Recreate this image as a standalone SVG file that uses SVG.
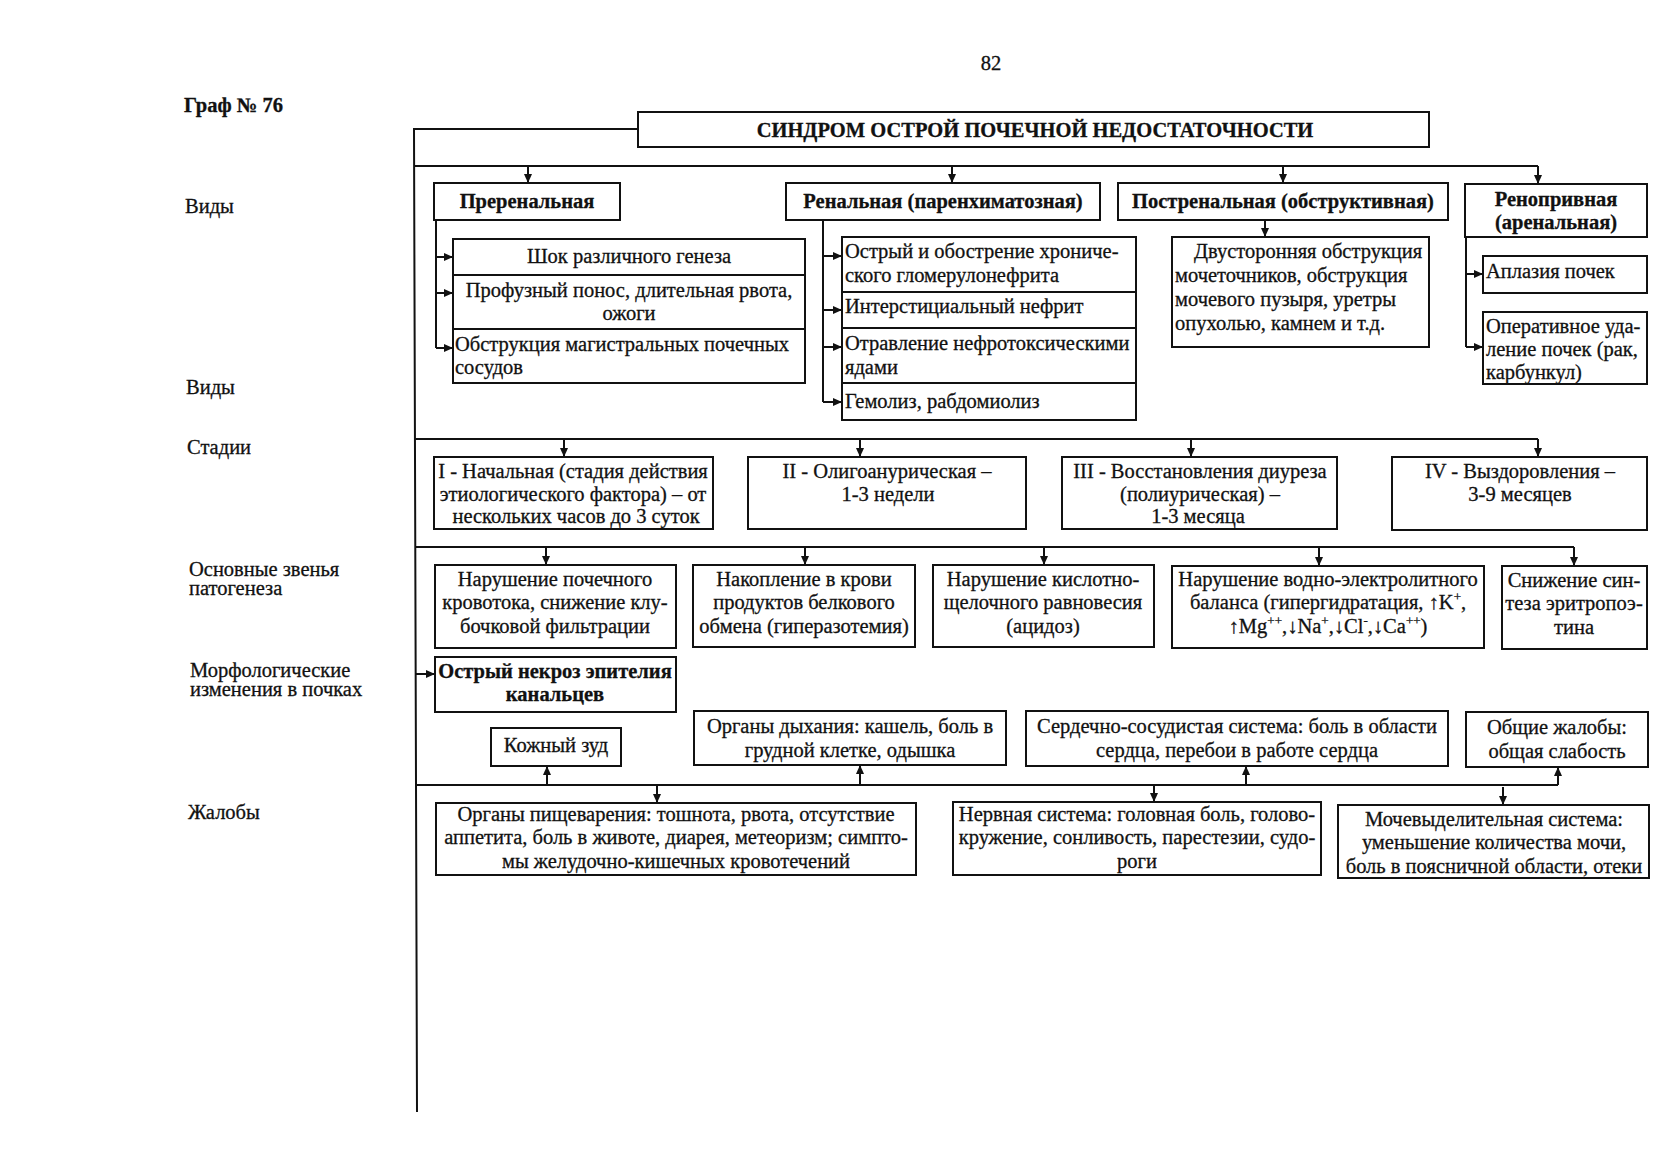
<svg xmlns="http://www.w3.org/2000/svg" width="1680" height="1164" viewBox="0 0 1680 1164">
<defs>
<marker id="ah" markerUnits="userSpaceOnUse" markerWidth="9" markerHeight="8" refX="9" refY="4" orient="auto">
<path d="M0,0 L9,4 L0,8 z" fill="#111"/>
</marker>
<style>
.box{fill:#fff;stroke:#111;stroke-width:2}
.ln{fill:none;stroke:#111;stroke-width:2}
.ar{fill:none;stroke:#111;stroke-width:2;marker-end:url(#ah)}
text{font-family:"Liberation Serif","Times New Roman",serif;font-size:20.5px;fill:#111;stroke:#111;stroke-width:0.3}
.b{font-weight:bold}
.c{text-anchor:middle}
.sup{font-size:13px}
</style>
</defs>
<rect width="1680" height="1164" fill="#fff"/>

<text x="991" y="70" class="c">82</text>
<text x="184" y="112" class="b">Граф № 76</text>

<g id="labels">
<text x="185" y="213">Виды</text>
<text x="186" y="394">Виды</text>
<text x="187" y="454">Стадии</text>
<text x="189" y="576">Основные звенья</text>
<text x="189" y="595">патогенеза</text>
<text x="190" y="677">Морфологические</text>
<text x="190" y="696">изменения в почках</text>
<text x="188" y="819">Жалобы</text>
</g>

<g id="connectors">
<polyline class="ln" points="638,129 414,129 417,1112"/>
<line class="ln" x1="414" y1="166" x2="1538" y2="166"/>
<line class="ar" x1="528" y1="166" x2="528" y2="183"/>
<line class="ar" x1="952" y1="166" x2="952" y2="183"/>
<line class="ar" x1="1283" y1="166" x2="1283" y2="183"/>
<line class="ar" x1="1538" y1="166" x2="1538" y2="184"/>
<polyline class="ln" points="436,220 436,348"/>
<line class="ar" x1="436" y1="257" x2="453" y2="257"/>
<line class="ar" x1="436" y1="293" x2="453" y2="293"/>
<line class="ar" x1="436" y1="348" x2="453" y2="348"/>
<polyline class="ln" points="823,220 823,402"/>
<line class="ar" x1="823" y1="256" x2="842" y2="256"/>
<line class="ar" x1="823" y1="310" x2="842" y2="310"/>
<line class="ar" x1="823" y1="347" x2="842" y2="347"/>
<line class="ar" x1="823" y1="402" x2="842" y2="402"/>
<line class="ar" x1="1265" y1="220" x2="1265" y2="237"/>
<polyline class="ln" points="1466,237 1466,347"/>
<line class="ar" x1="1466" y1="274" x2="1483" y2="274"/>
<line class="ar" x1="1466" y1="347" x2="1483" y2="347"/>

<line class="ln" x1="415" y1="439" x2="1538" y2="439"/>
<line class="ar" x1="564" y1="439" x2="564" y2="457"/>
<line class="ar" x1="860" y1="439" x2="860" y2="457"/>
<line class="ar" x1="1191" y1="439" x2="1191" y2="457"/>
<line class="ar" x1="1538" y1="439" x2="1538" y2="457"/>

<line class="ln" x1="415" y1="547" x2="1574" y2="547"/>
<line class="ar" x1="546" y1="547" x2="546" y2="565"/>
<line class="ar" x1="805" y1="547" x2="805" y2="565"/>
<line class="ar" x1="1044" y1="547" x2="1044" y2="565"/>
<line class="ar" x1="1319" y1="547" x2="1319" y2="566"/>
<line class="ar" x1="1574" y1="547" x2="1574" y2="566"/>

<line class="ar" x1="416" y1="674" x2="435" y2="674"/>

<line class="ln" x1="416" y1="785" x2="1558" y2="785"/>
<line class="ar" x1="547" y1="785" x2="547" y2="766"/>
<line class="ar" x1="860" y1="785" x2="860" y2="765"/>
<line class="ar" x1="1246" y1="785" x2="1246" y2="766"/>
<line class="ar" x1="1558" y1="785" x2="1558" y2="767"/>
<line class="ar" x1="657" y1="785" x2="657" y2="803"/>
<line class="ar" x1="1154" y1="785" x2="1154" y2="802"/>
<line class="ar" x1="1503" y1="787" x2="1503" y2="805"/>
</g>

<g id="title">
<rect class="box" x="638" y="112" width="791" height="35"/>
<text x="1035" y="137" class="c b">СИНДРОМ ОСТРОЙ ПОЧЕЧНОЙ НЕДОСТАТОЧНОСТИ</text>
</g>

<g id="prerenal">
<rect class="box" x="434" y="183" width="186" height="37"/>
<text x="527" y="208" class="c b">Преренальная</text>
</g>
<g id="prerenal-causes">
<rect class="box" x="453" y="239" width="352" height="36"/>
<rect class="box" x="453" y="275" width="352" height="54"/>
<rect class="box" x="453" y="329" width="352" height="54"/>
<text x="629" y="263" class="c">Шок различного генеза</text>
<text x="629" y="297" class="c">Профузный понос, длительная рвота,</text>
<text x="629" y="320" class="c">ожоги</text>
<text x="455" y="351">Обструкция магистральных почечных</text>
<text x="455" y="374">сосудов</text>
</g>

<g id="renal">
<rect class="box" x="786" y="183" width="314" height="37"/>
<text x="943" y="208" class="c b">Ренальная (паренхиматозная)</text>
</g>
<g id="renal-causes">
<rect class="box" x="842" y="237" width="294" height="55"/>
<rect class="box" x="842" y="292" width="294" height="36"/>
<rect class="box" x="842" y="328" width="294" height="55"/>
<rect class="box" x="842" y="383" width="294" height="37"/>
<text x="845" y="258">Острый и обострение хрониче-</text>
<text x="845" y="282">ского гломерулонефрита</text>
<text x="845" y="313">Интерстициальный нефрит</text>
<text x="845" y="350">Отравление нефротоксическими</text>
<text x="845" y="374">ядами</text>
<text x="845" y="408">Гемолиз, рабдомиолиз</text>
</g>

<g id="postrenal">
<rect class="box" x="1118" y="183" width="330" height="37"/>
<text x="1283" y="208" class="c b">Постренальная (обструктивная)</text>
</g>
<g id="postrenal-causes">
<rect class="box" x="1172" y="237" width="257" height="110"/>
<text x="1194" y="258">Двусторонняя обструкция</text>
<text x="1175" y="282">мочеточников, обструкция</text>
<text x="1175" y="306">мочевого пузыря, уретры</text>
<text x="1175" y="330">опухолью, камнем и т.д.</text>
</g>

<g id="reno">
<rect class="box" x="1465" y="184" width="182" height="53"/>
<text x="1556" y="206" class="c b">Ренопривная</text>
<text x="1556" y="229" class="c b">(аренальная)</text>
</g>
<g id="reno-aplasia">
<rect class="box" x="1483" y="256" width="164" height="37"/>
<text x="1486" y="278">Аплазия почек</text>
</g>
<g id="reno-surgery">
<rect class="box" x="1483" y="312" width="164" height="72"/>
<text x="1486" y="333">Оперативное уда-</text>
<text x="1486" y="356">ление почек (рак,</text>
<text x="1486" y="379">карбункул)</text>
</g>

<g id="stage1">
<rect class="box" x="434" y="457" width="279" height="72"/>
<text x="573" y="478" class="c">I - Начальная (стадия действия</text>
<text x="573" y="501" class="c">этиологического фактора) – от</text>
<text x="576" y="523" class="c">нескольких часов до 3 суток</text>
</g>
<g id="stage2">
<rect class="box" x="748" y="457" width="278" height="72"/>
<text x="887" y="478" class="c">II - Олигоанурическая –</text>
<text x="888" y="501" class="c">1-3 недели</text>
</g>
<g id="stage3">
<rect class="box" x="1062" y="457" width="275" height="72"/>
<text x="1200" y="478" class="c">III - Восстановления  диуреза</text>
<text x="1200" y="501" class="c">(полиурическая) –</text>
<text x="1198" y="523" class="c">1-3 месяца</text>
</g>
<g id="stage4">
<rect class="box" x="1392" y="457" width="255" height="73"/>
<text x="1520" y="478" class="c">IV - Выздоровления –</text>
<text x="1520" y="501" class="c">3-9 месяцев</text>
</g>

<g id="path1">
<rect class="box" x="435" y="565" width="241" height="83"/>
<text x="555" y="586" class="c">Нарушение почечного</text>
<text x="555" y="609" class="c">кровотока, снижение клу-</text>
<text x="555" y="633" class="c">бочковой фильтрации</text>
</g>
<g id="path2">
<rect class="box" x="693" y="565" width="222" height="82"/>
<text x="804" y="586" class="c">Накопление в крови</text>
<text x="804" y="609" class="c">продуктов белкового</text>
<text x="804" y="633" class="c">обмена (гиперазотемия)</text>
</g>
<g id="path3">
<rect class="box" x="933" y="565" width="221" height="82"/>
<text x="1043" y="586" class="c">Нарушение кислотно-</text>
<text x="1043" y="609" class="c">щелочного равновесия</text>
<text x="1043" y="633" class="c">(ацидоз)</text>
</g>
<g id="path4">
<rect class="box" x="1172" y="566" width="312" height="82"/>
<text x="1328" y="586" class="c">Нарушение водно-электролитного</text>
<text x="1328" y="609" class="c">баланса (гипергидратация, ↑K<tspan class="sup" dy="-8">+</tspan><tspan dy="8">,</tspan></text>
<text x="1328" y="633" class="c">↑Mg<tspan class="sup" dy="-8">++</tspan><tspan dy="8">,↓Na</tspan><tspan class="sup" dy="-8">+</tspan><tspan dy="8">,↓Cl</tspan><tspan class="sup" dy="-8">-</tspan><tspan dy="8">,↓Ca</tspan><tspan class="sup" dy="-8">++</tspan><tspan dy="8">)</tspan></text>
</g>
<g id="path5">
<rect class="box" x="1502" y="566" width="145" height="83"/>
<text x="1574" y="587" class="c">Снижение син-</text>
<text x="1574" y="610" class="c">теза эритропоэ-</text>
<text x="1574" y="634" class="c">тина</text>
</g>

<g id="morph">
<rect class="box" x="435" y="657" width="241" height="55"/>
<text x="555" y="678" class="c b">Острый некроз эпителия</text>
<text x="555" y="701" class="c b">канальцев</text>
</g>

<g id="skin">
<rect class="box" x="491" y="728" width="130" height="38"/>
<text x="556" y="752" class="c">Кожный зуд</text>
</g>
<g id="resp">
<rect class="box" x="694" y="711" width="312" height="54"/>
<text x="850" y="733" class="c">Органы дыхания: кашель, боль в</text>
<text x="850" y="757" class="c">грудной клетке, одышка</text>
</g>
<g id="cardio">
<rect class="box" x="1026" y="711" width="422" height="55"/>
<text x="1237" y="733" class="c">Сердечно-сосудистая система: боль в области</text>
<text x="1237" y="757" class="c">сердца, перебои в работе сердца</text>
</g>
<g id="general">
<rect class="box" x="1466" y="712" width="182" height="55"/>
<text x="1557" y="734" class="c">Общие жалобы:</text>
<text x="1557" y="758" class="c">общая слабость</text>
</g>
<g id="digest">
<rect class="box" x="436" y="803" width="480" height="72"/>
<text x="676" y="821" class="c">Органы пищеварения: тошнота, рвота, отсутствие</text>
<text x="676" y="844" class="c">аппетита, боль в животе, диарея, метеоризм; симпто-</text>
<text x="676" y="868" class="c">мы желудочно-кишечных кровотечений</text>
</g>
<g id="nervous">
<rect class="box" x="953" y="802" width="368" height="73"/>
<text x="1137" y="821" class="c">Нервная система: головная боль, голово-</text>
<text x="1137" y="844" class="c">кружение, сонливость, парестезии, судо-</text>
<text x="1137" y="868" class="c">роги</text>
</g>
<g id="urinary">
<rect class="box" x="1338" y="805" width="311" height="73"/>
<text x="1494" y="826" class="c">Мочевыделительная система:</text>
<text x="1494" y="849" class="c">уменьшение количества мочи,</text>
<text x="1494" y="873" class="c">боль в поясничной области, отеки</text>
</g>
</svg>
